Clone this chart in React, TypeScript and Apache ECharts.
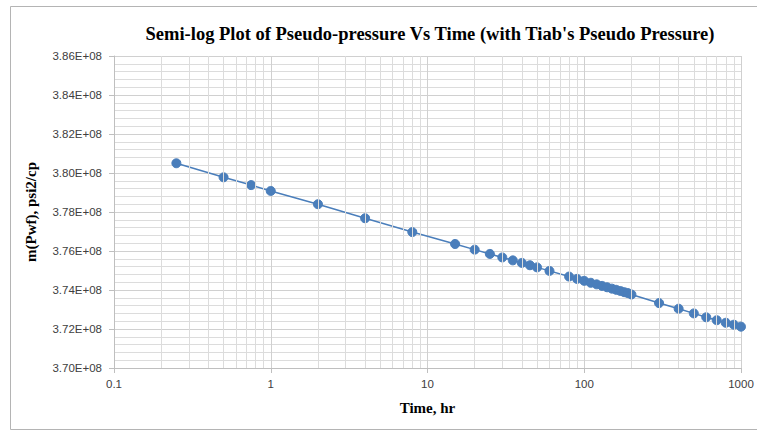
import React, { useEffect, useRef } from "react";
import * as echarts from "echarts";

const timeHr: number[] = [
  0.25, 0.5, 0.75, 1, 2, 4, 8, 15, 20, 25, 30, 35, 40, 45, 50, 60, 80, 90, 100,
  110, 120, 130, 140, 150, 160, 170, 180, 190, 200, 300, 400, 500, 600, 700, 800,
  900, 1000,
];
const mPwf: number[] = [
  3.805e8, 3.7978e8, 3.7938e8, 3.7908e8, 3.784e8, 3.7768e8, 3.7697e8, 3.7636e8,
  3.7607e8, 3.7585e8, 3.7567e8, 3.7552e8, 3.7539e8, 3.7527e8, 3.7516e8,
  3.7498e8, 3.7469e8, 3.7457e8, 3.7447e8, 3.7437e8, 3.7429e8, 3.7421e8,
  3.7414e8, 3.7407e8, 3.7401e8, 3.7395e8, 3.7389e8, 3.7384e8, 3.7377e8,
  3.7333e8, 3.7304e8, 3.728e8, 3.726e8, 3.7245e8, 3.7232e8, 3.7222e8, 3.7212e8,
];
const xTickLabels: string[] = ["0.1", "1", "10", "100", "1000"];
const decades: number[] = [0.1, 1, 10, 100];

const TITLE = "Semi-log Plot of Pseudo-pressure Vs Time (with Tiab's Pseudo Pressure)";
const BLUE = "#4a7ebb";

export default function App() {
  const ref = useRef<HTMLDivElement>(null);
  useEffect(() => {
    if (!ref.current) return;
    const chart = echarts.init(ref.current, undefined, { renderer: "svg" });
    const minorX: { xAxis: number }[] = [];
    decades.forEach((d) => {
      for (let k = 2; k <= 9; k++) minorX.push({ xAxis: parseFloat((d * k).toPrecision(3)) });
    });
    const labelMap: Record<string, string> = {};
    [0.1, 1, 10, 100, 1000].forEach((v, i) => (labelMap[String(v)] = xTickLabels[i]));
    chart.setOption({
      animation: false,
      backgroundColor: "#ffffff",
      title: {
        text: TITLE,
        left: 425,
        textAlign: "center",
        top: 19,
        textStyle: {
          fontFamily: "Liberation Serif",
          fontWeight: "bold",
          fontSize: 18.5,
          color: "#000",
        },
      },
      graphic: [
        {
          type: "rect",
          shape: { x: 10.5, y: 6.5, width: 760, height: 423 },
          style: { fill: "none", stroke: "#b4b4b4", lineWidth: 1 },
          silent: true,
        },
      ],
      grid: { left: 114, right: 16, top: 56, bottom: 64 },
      xAxis: {
        type: "log",
        logBase: 10,
        min: 0.1,
        max: 1000,
        name: "Time, hr",
        nameLocation: "middle",
        nameGap: 32,
        nameTextStyle: {
          fontFamily: "Liberation Serif",
          fontWeight: "bold",
          fontSize: 15,
          color: "#000",
        },
        axisLine: { show: true, onZero: false, lineStyle: { color: "#bfbfbf", width: 1 } },
        axisTick: { show: true, length: 5, lineStyle: { color: "#bfbfbf" } },
        axisLabel: {
          margin: 10,
          fontFamily: "Liberation Sans",
          fontSize: 11.5,
          color: "#404040",
          formatter: (v: number) => {
            const key = String(parseFloat(v.toPrecision(3)));
            return labelMap[key] ?? key;
          },
        },
        splitLine: { show: true, lineStyle: { color: "#d0d0d0", width: 1 } },
      },
      yAxis: {
        type: "value",
        min: 3.7e8,
        max: 3.86e8,
        interval: 0.02e8,
        name: "m(Pwf), psi2/cp",
        nameLocation: "middle",
        nameGap: 76,
        nameRotate: 90,
        nameTextStyle: {
          fontFamily: "Liberation Serif",
          fontWeight: "bold",
          fontSize: 15,
          color: "#000",
        },
        axisLine: { show: true, lineStyle: { color: "#bfbfbf", width: 1 } },
        axisTick: { show: true, length: 5, lineStyle: { color: "#bfbfbf" } },
        axisLabel: {
          margin: 12,
          fontFamily: "Liberation Sans",
          fontSize: 11.5,
          color: "#404040",
          formatter: (v: number) => (v / 1e8).toFixed(2) + "E+08",
        },
        splitLine: { show: true, lineStyle: { color: "#d0d0d0", width: 1 } },
        minorTick: { show: false, splitNumber: 5 },
        minorSplitLine: { show: true, lineStyle: { color: "#dcdcdc", width: 1 } },
      },
      series: [
        {
          type: "line",
          data: [],
          z: 1,
          silent: true,
          markLine: {
            silent: true,
            symbol: ["none", "none"],
            label: { show: false },
            lineStyle: { color: "#dcdcdc", width: 1, type: "solid" },
            emphasis: { disabled: true },
            data: minorX,
          },
        },
        {
          type: "line",
          z: 3,
          data: timeHr.map((t, i) => [t, mPwf[i]]),
          symbol: "circle",
          symbolSize: 9,
          itemStyle: { color: BLUE, borderColor: BLUE, borderWidth: 1 },
          lineStyle: { color: BLUE, width: 1.5 },
        },
      ],
    });
    return () => chart.dispose();
  }, []);
  return (
    <div
      ref={ref}
      style={{ position: "absolute", left: 0, top: 0, width: 757, height: 432 }}
    />
  );
}
